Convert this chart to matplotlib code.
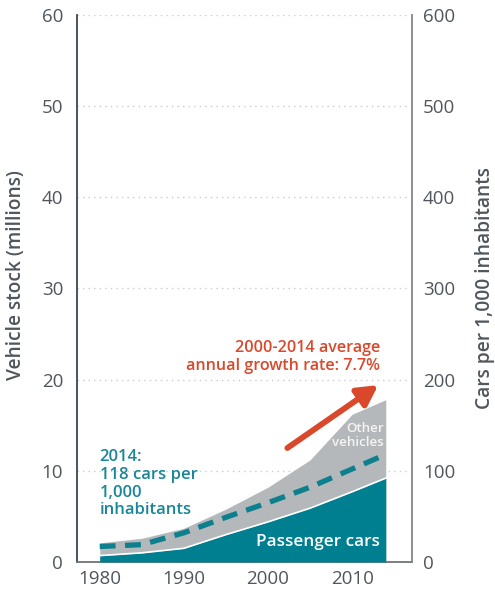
import matplotlib
matplotlib.use("Agg")
import matplotlib.pyplot as plt

years = [1980, 1985, 1990, 1995, 2000, 2005, 2010, 2014]
passenger_cars = [0.7, 1.0, 1.5, 3.0, 4.4, 5.9, 7.7, 9.2]
total_vehicles = [2.1, 2.6, 3.7, 5.8, 8.2, 11.2, 16.2, 17.8]
cars_per_1000 = [17, 19, 32, 49, 65, 82, 102, 118]

left_ticks = [0, 10, 20, 30, 40, 50, 60]
right_ticks = [0, 100, 200, 300, 400, 500, 600]
x_ticks = [1980, 1990, 2000, 2010]

TEAL = "#007f91"
DASH = "#0d7f8d"
GRAY = "#b5b8ba"
ORANGE = "#d9482b"
TXT = "#50565c"

plt.rcParams["font.family"] = ["Open Sans", "DejaVu Sans"]

fig = plt.figure(figsize=(4.95, 5.9), dpi=100)
ax = fig.add_axes([0.1556, 0.0475, 0.832 - 0.1556, 0.9746 - 0.0475])
ax2 = ax.twinx()

ax.fill_between(years, 0, total_vehicles, color=GRAY, lw=0, zorder=2)
ax.fill_between(years, 0, passenger_cars, color=TEAL, lw=0, zorder=3)
ax.plot(years, passenger_cars, color="white", lw=1.2, zorder=4)

ax.set_xlim(1977.3, 2017.1)
ax.set_ylim(0, 60)
ax2.set_ylim(0, 600)

ax2.plot(years, cars_per_1000, color=DASH, lw=3.8, dashes=(3.0, 1.8),
         solid_capstyle="butt", dash_capstyle="butt", zorder=5)

for y in left_ticks[1:]:
    ax.axhline(y, color="#c9cccf", lw=1.0, ls=(0, (1, 3)), zorder=1)

ax.set_yticks(left_ticks)
ax.set_xticks(x_ticks)
ax2.set_yticks(right_ticks)
ax.tick_params(axis="y", length=0, pad=10, labelsize=13.5, labelcolor=TXT)
ax.tick_params(axis="x", length=0, pad=6, labelsize=13.5, labelcolor=TXT)
ax2.tick_params(axis="y", length=0, pad=8, labelsize=13.5, labelcolor=TXT)

for a in (ax, ax2):
    a.spines["top"].set_visible(False)
ax.spines["left"].set_color("#3d4650")
ax.spines["left"].set_linewidth(1.3)
ax.spines["bottom"].set_color("#6e747a")
ax.spines["bottom"].set_linewidth(1.3)
ax2.spines["left"].set_visible(False)
ax2.spines["bottom"].set_visible(False)
ax2.spines["right"].set_color("#80868b")
ax2.spines["right"].set_linewidth(1.3)
ax.spines["right"].set_visible(False)

ax.set_ylabel("Vehicle stock (millions)", fontsize=13.8, fontweight="semibold",
              color=TXT)
ax.yaxis.set_label_coords(-0.152, 0.525)
ax2.set_ylabel("Cars per 1,000 inhabitants", fontsize=13.8, fontweight="semibold",
               color=TXT, labelpad=14)

ax.text(1980.0, 12.4, "2014:\n118 cars per\n1,000\ninhabitants", color="#1a8696",
        fontsize=12, fontweight="semibold", ha="left", va="top", linespacing=1.15,
        zorder=6)
ax.text(2005.9, 2.2, "Passenger cars", color="white", fontsize=12.3,
        fontweight="semibold", ha="center", va="center", zorder=6)
ax.text(2013.8, 13.9, "Other\nvehicles", color="#f4f4f4", fontsize=9.6,
        fontweight="semibold", ha="right", va="center", linespacing=1.05, zorder=6)
ax.text(2013.3, 20.6, "2000-2014 average\nannual growth rate: 7.7%", color=ORANGE,
        fontsize=11.6, fontweight="semibold", ha="right", va="bottom",
        linespacing=1.2, zorder=6)

ax.annotate("", xy=(2013.1, 19.4), xytext=(2002.3, 12.5),
            arrowprops=dict(arrowstyle="-|>,head_length=1.2,head_width=0.65",
                            color=ORANGE, lw=4.2, shrinkA=0, shrinkB=0),
            zorder=6)

fig.savefig("out.png", dpi=100)
